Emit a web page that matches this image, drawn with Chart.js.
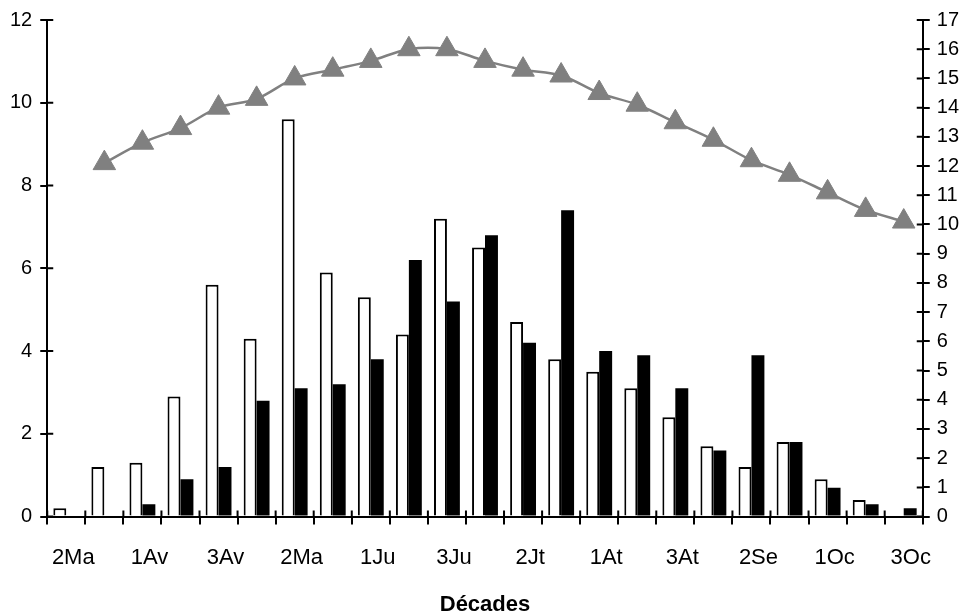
<!DOCTYPE html>
<html>
<head>
<meta charset="utf-8">
<title>Décades</title>
<script src="https://cdn.jsdelivr.net/npm/chart.js@4/dist/chart.umd.min.js"></script>
<style>
  html, body { margin: 0; padding: 0; background: #fff; }
  #wrap { width: 966px; height: 616px; }
</style>
</head>
<body>
<div id="wrap"><canvas id="myChart"></canvas></div>
<script>
// decades, March to October
var decades = ['2Ma', '3Ma', '1Av', '2Av', '3Av', '1Ma', '2Ma', '3Ma', '1Ju', '2Ju', '3Ju', '1Jt',
    '2Jt', '3Jt', '1At', '2At', '3At', '1Se', '2Se', '3Se', '1Oc', '2Oc', '3Oc'];

// white bars (left axis)
var whiteBars = [0.2, 1.2, 1.3, 2.9, 5.6, 4.3, 9.6, 5.9, 5.3, 4.4, 7.2, 6.5,
    4.7, 3.8, 3.5, 3.1, 2.4, 1.7, 1.2, 1.8, 0.9, 0.4, 0];

// black bars (left axis)
var blackBars = [0, 0, 0.3, 0.9, 1.2, 2.8, 3.1, 3.2, 3.8, 6.2, 5.2, 6.8,
    4.2, 7.4, 4.0, 3.9, 3.1, 1.6, 3.9, 1.8, 0.7, 0.3, 0.2];

// triangles (right axis), nothing for the first decade
var triangleLine = [null, 12.1, 12.8, 13.3, 14.0, 14.3, 15.0, 15.3, 15.6, 16.0, 16.0, 15.6,
    15.3, 15.1, 14.5, 14.1, 13.5, 12.9, 12.2, 11.7, 11.1, 10.5, 10.1];

var xTitle = 'Décades';

var FONT = '"Liberation Sans", Arial, sans-serif';

// excel-like ticks that cross the axis line: draw the inner half here
var innerTicks = {
    id: 'innerTicks',
    afterDraw: function (chart) {
        var ctx = chart.ctx;
        ctx.save();
        ctx.strokeStyle = '#000';
        ctx.lineWidth = 2;
        ctx.beginPath();
        var x = chart.scales.x;
        var n = chart.data.labels.length;
        for (var i = 0; i <= n; i++) {
            var px = x.left + i * x.width / n;
            ctx.moveTo(px, x.top);
            ctx.lineTo(px, x.top - 6);
        }
        ['y', 'y1'].forEach(function (id) {
            var s = chart.scales[id];
            var dir = s.position === 'left' ? 1 : -1;
            var edge = s.position === 'left' ? s.right : s.left;
            s.ticks.forEach(function (t) {
                var py = s.getPixelForValue(t.value);
                ctx.moveTo(edge, py);
                ctx.lineTo(edge + dir * 6, py);
            });
        });
        ctx.stroke();
        ctx.restore();
    }
};

var ctx = document.getElementById('myChart').getContext('2d');
var myChart = new Chart(ctx, {
    type: 'bar',
    data: {
        labels: decades,
        datasets: [
            {
                type: 'line',
                data: triangleLine,
                yAxisID: 'y1',
                order: 0,
                borderColor: 'rgb(128,128,128)',
                borderWidth: 2.5,
                tension: 0.35,
                pointStyle: 'triangle',
                pointRadius: 13,
                pointBackgroundColor: 'rgb(128,128,128)',
                pointBorderColor: 'rgb(128,128,128)',
                pointBorderWidth: 1
            },
            {
                data: whiteBars,
                yAxisID: 'y',
                order: 1,
                backgroundColor: '#fff',
                borderColor: '#000',
                borderWidth: 2,
                barPercentage: 1,
                categoryPercentage: 0.68
            },
            {
                data: blackBars,
                yAxisID: 'y',
                order: 1,
                backgroundColor: '#000',
                borderWidth: 0,
                barPercentage: 1,
                categoryPercentage: 0.68
            }
        ]
    },
    options: {
        responsive: true,
        maintainAspectRatio: false,
        animation: false,
        layout: { padding: { top: 17, left: 2, right: 0, bottom: 0 } },
        plugins: {
            legend: { display: false },
            tooltip: { enabled: false }
        },
        scales: {
            x: {
                offset: true,
                border: { color: '#000', width: 2 },
                grid: { offset: true, drawOnChartArea: false, color: '#000', lineWidth: 2, tickLength: 8 },
                ticks: {
                    autoSkip: false,
                    maxRotation: 0,
                    color: '#000',
                    padding: 20,
                    labelOffset: 7,
                    font: { family: FONT, size: 22 },
                    callback: function (value, index) {
                        return index % 2 === 0 ? decades[index] : '';
                    }
                },
                title: {
                    display: true,
                    text: xTitle,
                    color: '#000',
                    padding: { top: 3, bottom: 0 },
                    font: { family: FONT, size: 22, weight: 'bold', lineHeight: 1 }
                }
            },
            y: {
                position: 'left',
                min: 0,
                max: 12,
                border: { color: '#000', width: 2 },
                grid: { drawOnChartArea: false, color: '#000', lineWidth: 2, tickLength: 7 },
                ticks: {
                    stepSize: 2,
                    color: '#000',
                    padding: 8,
                    font: { family: FONT, size: 20 }
                }
            },
            y1: {
                position: 'right',
                min: 0,
                max: 17,
                border: { color: '#000', width: 2 },
                grid: { drawOnChartArea: false, color: '#000', lineWidth: 2, tickLength: 7 },
                ticks: {
                    stepSize: 1,
                    color: '#000',
                    padding: 7,
                    font: { family: FONT, size: 20 }
                }
            }
        }
    },
    plugins: [innerTicks]
});
</script>
</body>
</html>
